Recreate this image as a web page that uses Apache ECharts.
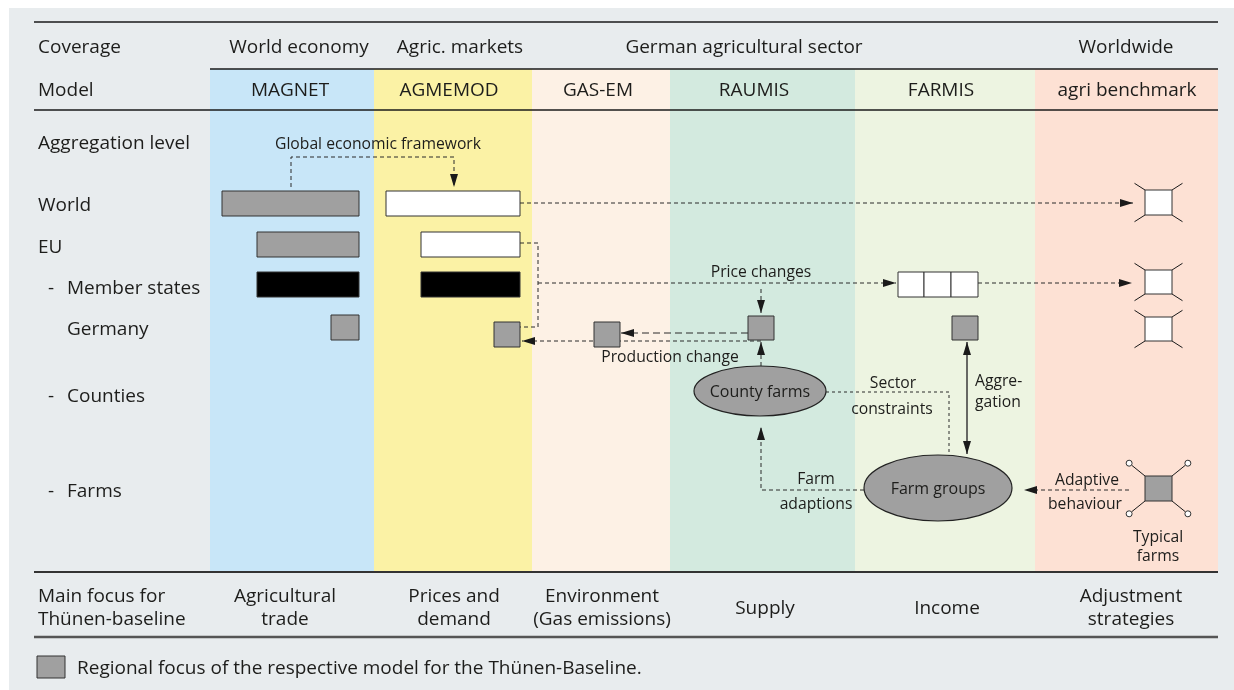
<!DOCTYPE html>
<html>
<head>
<meta charset="utf-8">
<script src="https://cdn.jsdelivr.net/npm/echarts@6/dist/echarts.min.js"></script>
<style>
  html, body { margin: 0; padding: 0; background: #fff; }
  #main { width: 1234px; height: 690px; }
</style>
</head>
<body>
<div id="main"></div>
<script>
// ---- content ----
const coverage = ['World economy', 'Agric. markets', 'German agricultural sector', 'Worldwide'];
const models = ['MAGNET', 'AGMEMOD', 'GAS-EM', 'RAUMIS', 'FARMIS', 'agri benchmark'];
const focus = ['Agricultural\ntrade', 'Prices and\ndemand', 'Environment\n(Gas emissions)', 'Supply', 'Income', 'Adjustment\nstrategies'];
const levels = ['Coverage', 'Model', 'Aggregation level', 'World', 'EU', 'Member states', 'Germany', 'Counties', 'Farms'];
const levelDash = [false, false, false, false, false, true, false, true, true];
const focusTitle = 'Main focus for\nThünen-baseline';
const legendText = 'Regional focus of the respective model for the Thünen-Baseline.';

// ---- layout (diagram units, 1 unit = 1 px on the hidden axes) ----
const colEdges = [210, 374, 532, 670, 855, 1035, 1218];
const bandColors = ['#c8e6f8', '#fbf2a5', '#fdf1e5', '#d3eadf', '#edf4e1', '#fde1d4'];
const coverageX = [299, 460, 744, 1126];
const modelX = [290, 449, 598, 754, 941, 1127];
const focusX = [285, 454, 602, 765, 947, 1131];
const levelY = [46, 89, 142, 204, 246, 287, 328, 395, 490];
const TEXT_DY = 1.5;

// horizontal rules: x0, x1, y, width, colour
const rules = [
  [34, 1218, 22, 1.5, '#1a1a1a'],
  [210, 1218, 69, 1.5, '#1a1a1a'],
  [34, 1218, 110, 1.5, '#1a1a1a'],
  [34, 1218, 572, 2, '#333333'],
  [34, 1218, 637, 2.5, '#555555']
];

// boxes: x0, y0, x1, y1, fill (0 grey, 1 white, 2 black), whiskers (0 none, 1 plain, 2 with dots)
const boxes = [
  [222, 191, 359, 216, 0, 0],
  [386, 191, 520, 216, 1, 0],
  [257, 232, 359, 257, 0, 0],
  [421, 232, 520, 257, 1, 0],
  [257, 272, 359, 297, 2, 0],
  [421, 272, 520, 297, 2, 0],
  [331, 315, 359, 340, 0, 0],
  [494, 322, 520, 347, 0, 0],
  [594, 322, 620, 347, 0, 0],
  [748, 316, 774, 340, 0, 0],
  [952, 316, 978, 340, 0, 0],
  [898, 272, 924, 297, 1, 0],
  [924, 272, 951, 297, 1, 0],
  [951, 272, 978, 297, 1, 0],
  [1145, 190, 1172, 215, 1, 1],
  [1145, 270, 1172, 294, 1, 1],
  [1145, 317, 1172, 341, 1, 1],
  [1145, 476, 1172, 501, 0, 2],
  [37, 656, 65, 678, 0, 0]
];
const boxFills = ['#a0a0a0', '#ffffff', '#000000'];

// ellipses: cx, cy, rx, ry, label
const nodes = [
  [760, 391, 66, 25, 'County farms'],
  [938, 488, 74, 33, 'Farm groups']
];

// flows: points, arrow at end, arrow at start, dash
const flows = [
  { pts: [[291, 187], [291, 157], [454, 157], [454, 187]], end: true, dash: [4, 3] },
  { pts: [[520, 203], [1133, 203]], end: true, dash: [4, 3] },
  { pts: [[520, 243], [538, 243], [538, 327], [520, 327]], end: false, dash: [4, 3] },
  { pts: [[538, 283], [896, 283]], end: true, dash: [4, 3] },
  { pts: [[978, 283], [1132, 283]], end: true, dash: [4, 3] },
  { pts: [[761, 289], [761, 313]], end: true, dash: [4, 3] },
  { pts: [[748, 333], [621, 333]], end: true, dash: [7, 4] },
  { pts: [[761, 341], [522, 341]], end: true, dash: [4, 3] },
  { pts: [[761, 366], [761, 342]], end: true, dash: [4, 3] },
  { pts: [[864, 490], [761, 490], [761, 427]], end: true, dash: [4, 3] },
  { pts: [[826, 392], [949, 392], [949, 457]], end: false, dash: [3, 3] },
  { pts: [[1129, 490], [1024, 490]], end: true, dash: [4, 3] },
  { pts: [[967, 342], [967, 454]], end: true, start: true, dash: null }
];

// small annotation texts: text, x, y, align
const notes = [
  ['Global economic framework', 378, 143, 'center'],
  ['Price changes', 761, 271, 'center'],
  ['Production change', 670, 356, 'center'],
  ['Sector', 893, 382, 'center'],
  ['constraints', 892, 408, 'center'],
  ['Aggre-', 975, 380, 'left'],
  ['gation', 975, 401, 'left'],
  ['Farm', 816, 478, 'center'],
  ['adaptions', 816, 503, 'center'],
  ['Adaptive', 1087, 479, 'center'],
  ['behaviour', 1085, 503, 'center'],
  ['Typical', 1158, 536, 'center'],
  ['farms', 1158, 555, 'center']
];

const FONT = '"Open Sans", sans-serif';
const INK = '#1d1d1b';
const BIG = 19;
const SMALL = 15.7;

// all text items
const texts = [];
function addText(t, x, y, align, size, lh) {
  texts.push({ t: t, x: x, y: y + TEXT_DY, align: align, size: size, lh: lh });
}
levels.forEach(function (l, i) {
  if (levelDash[i]) addText('-', 48, levelY[i], 'left', BIG);
  addText(l, i >= 5 ? 67 : 38, levelY[i], 'left', BIG);
});
coverage.forEach(function (c, i) { addText(c, coverageX[i], levelY[0], 'center', BIG); });
models.forEach(function (m, i) { addText(m, modelX[i], levelY[1], 'center', BIG); });
addText(focusTitle, 38, 607, 'left', BIG, 23);
focus.forEach(function (f, i) { addText(f, focusX[i], 607, 'center', BIG, 23); });
addText(legendText, 77, 667, 'left', BIG);
notes.forEach(function (n) { addText(n[0], n[1], n[2], n[3], SMALL); });
nodes.forEach(function (n) { addText(n[4], n[0], n[1], 'center', 16); });

function rectFrom(api, x0, y0, x1, y1) {
  const p0 = api.coord([x0, y0]);
  const p1 = api.coord([x1, y1]);
  return { x: p0[0], y: p0[1], width: p1[0] - p0[0], height: p1[1] - p0[1] };
}

function head(tip, from, len, hw) {
  const dx = tip[0] - from[0], dy = tip[1] - from[1];
  const d = Math.sqrt(dx * dx + dy * dy);
  const ux = dx / d, uy = dy / d;
  const bx = tip[0] - ux * len, by = tip[1] - uy * len;
  return {
    type: 'polygon',
    shape: { points: [tip, [bx - uy * hw, by + ux * hw], [bx + uy * hw, by - ux * hw]] },
    style: { fill: '#1a1a1a' }
  };
}

const option = {
  backgroundColor: '#ffffff',
  animation: false,
  grid: { left: 0, right: 0, top: 0, bottom: 0 },
  xAxis: { type: 'value', min: 0, max: 1234, show: false },
  yAxis: { type: 'value', min: 0, max: 690, inverse: true, show: false },
  series: [
    // panel
    {
      type: 'custom', silent: true, z: 1,
      data: [[9, 8, 1234, 690]],
      renderItem: function (params, api) {
        return { type: 'rect', shape: rectFrom(api, api.value(0), api.value(1), api.value(2), api.value(3)), style: { fill: '#e8ecee' } };
      }
    },
    // model bands
    {
      type: 'custom', silent: true, z: 2,
      data: models.map(function (m, i) { return [colEdges[i], colEdges[i + 1]]; }),
      renderItem: function (params, api) {
        return {
          type: 'rect',
          shape: rectFrom(api, api.value(0), 69, api.value(1), 572),
          style: { fill: bandColors[params.dataIndex] }
        };
      }
    },
    // rules
    {
      type: 'custom', silent: true, z: 3,
      data: rules.map(function (r) { return [r[0], r[2], r[1]]; }),
      renderItem: function (params, api) {
        const r = rules[params.dataIndex];
        const a = api.coord([r[0], r[2]]);
        const b = api.coord([r[1], r[2]]);
        return { type: 'line', shape: { x1: a[0], y1: a[1], x2: b[0], y2: b[1] }, style: { stroke: r[4], lineWidth: r[3] } };
      }
    },
    // flows
    {
      type: 'custom', silent: true, z: 4,
      data: flows.map(function (f) { return f.pts[0]; }),
      renderItem: function (params, api) {
        const f = flows[params.dataIndex];
        const pts = f.pts.map(function (p) { return api.coord(p); });
        const n = pts.length;
        const children = [{
          type: 'polyline',
          shape: { points: pts },
          style: { stroke: f.dash ? '#2a2a2a' : '#3a3a3a', lineWidth: f.dash ? 1 : 1.5, lineDash: f.dash || null, fill: null }
        }];
        if (f.end) children.push(head(pts[n - 1], pts[n - 2], 13, 4));
        if (f.start) children.push(head(pts[0], pts[1], 13, 4));
        return { type: 'group', children: children };
      }
    },
    // boxes
    {
      type: 'custom', silent: true, z: 5,
      data: boxes.map(function (b) { return [b[0], b[1], b[2], b[3]]; }),
      renderItem: function (params, api) {
        const b = boxes[params.dataIndex];
        const s = rectFrom(api, b[0], b[1], b[2], b[3]);
        const children = [{ type: 'rect', shape: s, style: { fill: boxFills[b[4]], stroke: '#333333', lineWidth: 1 } }];
        const x0 = s.x, y0 = s.y, x1 = s.x + s.width, y1 = s.y + s.height;
        if (b[5] === 1) {
          [[x0, y0, -10.5, -6.7], [x1, y0, 10.5, -6.7], [x0, y1, -10.5, 6.7], [x1, y1, 10.5, 6.7]].forEach(function (w) {
            children.push({ type: 'line', shape: { x1: w[0], y1: w[1], x2: w[0] + w[2], y2: w[1] + w[3] }, style: { stroke: '#1a1a1a', lineWidth: 1 } });
          });
        } else if (b[5] === 2) {
          [[x0, y0, -13, -10.5], [x1, y0, 13, -10.5], [x0, y1, -13, 10.5], [x1, y1, 13, 10.5]].forEach(function (w) {
            children.push({ type: 'line', shape: { x1: w[0], y1: w[1], x2: w[0] + w[2], y2: w[1] + w[3] }, style: { stroke: '#1a1a1a', lineWidth: 1 } });
            children.push({ type: 'circle', shape: { cx: w[0] + w[2] * 1.22, cy: w[1] + w[3] * 1.22, r: 3 }, style: { fill: '#ffffff', stroke: '#333333', lineWidth: 1 } });
          });
        }
        return { type: 'group', children: children };
      }
    },
    // ellipses
    {
      type: 'custom', silent: true, z: 6,
      data: nodes.map(function (n) { return [n[0], n[1]]; }),
      renderItem: function (params, api) {
        const n = nodes[params.dataIndex];
        const c = api.coord([n[0], n[1]]);
        const sz = api.size([n[2], n[3]]);
        return { type: 'ellipse', shape: { cx: c[0], cy: c[1], rx: sz[0], ry: sz[1] }, style: { fill: '#a0a0a0', stroke: '#222222', lineWidth: 1.2 } };
      }
    },
    // texts
    {
      type: 'custom', silent: true, z: 10,
      data: texts.map(function (t) { return [t.x, t.y]; }),
      renderItem: function (params, api) {
        const d = texts[params.dataIndex];
        const p = api.coord([d.x, d.y]);
        return {
          type: 'text', x: p[0], y: p[1],
          style: {
            text: d.t, fill: INK, fontFamily: FONT, fontSize: d.size,
            align: d.align, verticalAlign: 'middle',
            lineHeight: d.lh || Math.round(d.size * 1.3)
          }
        };
      }
    }
  ]
};

const chart = echarts.init(document.getElementById('main'));
chart.setOption(option);
</script>
</body>
</html>
